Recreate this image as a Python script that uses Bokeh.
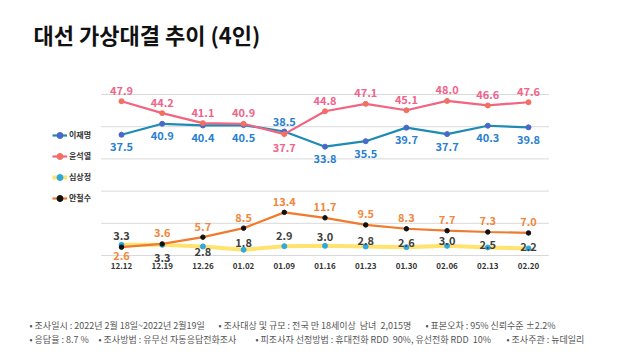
from bokeh.plotting import figure
from bokeh.models import (ColumnDataSource, Range1d, Label, Legend, LegendItem)
from bokeh.core.properties import value
from bokeh.embed import file_html
from bokeh.resources import INLINE

# ---------------- data ----------------
dates = ["12.12", "12.19", "12.26", "01.02", "01.09", "01.16",
         "01.23", "01.30", "02.06", "02.13", "02.20"]
lee = [37.5, 40.9, 40.4, 40.5, 38.5, 33.8, 35.5, 39.7, 37.7, 40.3, 39.8]
yoon = [47.9, 44.2, 41.1, 40.9, 37.7, 44.8, 47.1, 45.1, 48.0, 46.6, 47.6]
shim = [3.3, 3.3, 2.8, 1.8, 2.9, 3.0, 2.8, 2.6, 3.0, 2.5, 2.2]
ahn = [2.6, 3.6, 5.7, 8.5, 13.4, 11.7, 9.5, 8.3, 7.7, 7.3, 7.0]
names = ["이재명", "윤석열", "심상정", "안철수"]
grid_vals = [0, 10, 20, 30, 40, 50]
title = "대선 가상대결 추이 (4인)"
NB = "\u00a0"
footer1 = ["• 조사일시 : 2022년 2월 18일~2022년 2월19일",
           "• 조사대상 및 규모 : 전국 만 18세이상" + NB + NB + "남녀" + NB + NB + "2,015명",
           "• 표본오차 : 95% 신뢰수준 ±2.2%"]
footer2 = ["• 응답율 : 8.7 %",
           "• 조사방법 : 유무선 자동응답전화조사",
           "• 피조사자 선정방법 : 휴대전화 RDD" + NB + NB + "90%, 유선전화 RDD" + NB + NB + "10%",
           "• 조사주관 : 뉴데일리"]

# ---------------- styles ----------------
FONT = "Noto Sans CJK KR"
W, H = 632, 352
X0_PX, DX_PX = 121.0, 40.7      # pixel of first category, px per category
Y0_PX, DY_PX = 255.0, 3.22      # pixel of value 0, px per unit
footer1_x = [29, 218, 425]
footer2_x = [29, 98, 255, 506]
lee_dy = [12, 12, 12, 12, -10, 12, 12, 12, 12, 12, 12]
yoon_dy = [-11, -11, -11, -11, 13, -11, -11, -11, -11, -11, -11]
shim_dy = [-9, 13, 5, -7, -11, -9, -6, -5, -5, -3, -2]
ahn_dy = [8, -11, -11, -11, -11, -11, -11, -11, -11, -11, -11]

xs = -X0_PX / DX_PX
xe = xs + W / DX_PX
ye = Y0_PX / DY_PX
ys = -(H - Y0_PX) / DY_PX

p = figure(width=W, height=H, x_range=Range1d(xs, xe), y_range=Range1d(ys, ye),
           output_backend="svg", toolbar_location=None,
           min_border=0, min_border_left=0, min_border_right=0,
           min_border_top=0, min_border_bottom=0)
p.axis.visible = False
p.grid.visible = False
p.background_fill_color = "white"
p.border_fill_color = "white"
p.outline_line_color = None

idx = list(range(len(dates)))
n = len(dates)

# horizontal gridlines across the category band
p.segment(x0=[-0.5] * len(grid_vals), x1=[n - 0.5] * len(grid_vals),
          y0=grid_vals, y1=grid_vals, line_color="#d9d9d9", line_width=1)

# category labels
p.text(x=idx, y=[0] * n, text=dates, y_offset=10, text_align="center",
       text_baseline="middle", text_font=value(FONT), text_font_style="bold",
       text_font_size="8px", text_color="#333333")

src = ColumnDataSource(dict(d=idx, lee=lee, yoon=yoon, shim=shim, ahn=ahn,
                            lee_t=[f"{v:.1f}" for v in lee],
                            yoon_t=[f"{v:.1f}" for v in yoon],
                            shim_t=[f"{v:.1f}" for v in shim],
                            ahn_t=[f"{v:.1f}" for v in ahn],
                            lee_dy=lee_dy, yoon_dy=yoon_dy,
                            shim_dy=shim_dy, ahn_dy=ahn_dy))

series = [
    ("lee", "#1f8bb5", 2.2, "#4a68c8", 5, "#2a7fcf"),
    ("yoon", "#f2647f", 2.2, "#f07062", 5, "#f0648a"),
    ("shim", "#ffe36e", 4, "#2fa8e0", 5, "#404040"),
    ("ahn", "#f07a2e", 2.2, "#111111", 4.5, "#f2873a"),
]
items = []
for (key, lc, lw, mc, ms, tc), nm in zip(series, names):
    r1 = p.line("d", key, source=src, line_color=lc, line_width=lw)
    r2 = p.scatter("d", key, source=src, size=ms, fill_color=mc, line_color=mc)
    p.text("d", key, text=key + "_t", source=src, y_offset=key + "_dy",
           text_align="center", text_baseline="middle",
           text_font=value(FONT), text_font_style="bold",
           text_font_size="11px", text_color=tc)
    items.append(LegendItem(label=nm, renderers=[r1, r2]))

legend = Legend(items=items, location=(52, H - 207.5), glyph_width=15,
                glyph_height=20, label_height=20, spacing=1, padding=0,
                margin=0, label_standoff=2, border_line_color=None,
                background_fill_alpha=0, label_text_font=FONT,
                label_text_font_size="8px", label_text_font_style="bold",
                label_text_color="#333333")
p.add_layout(legend, "center")

p.add_layout(Label(x=33, y=H - 33, x_units="screen", y_units="screen",
                   text=title, text_font=FONT, text_font_style="bold",
                   text_font_size="22px", text_color="#111111",
                   text_baseline="middle"))
for txt, fx in zip(footer1, footer1_x):
    p.add_layout(Label(x=fx, y=H - 325, x_units="screen", y_units="screen",
                       text=txt, text_font=FONT, text_font_size="9px",
                       text_color="#555555", text_baseline="middle"))
for txt, fx in zip(footer2, footer2_x):
    p.add_layout(Label(x=fx, y=H - 339, x_units="screen", y_units="screen",
                       text=txt, text_font=FONT, text_font_size="9px",
                       text_color="#555555", text_baseline="middle"))

open("out.html", "w").write(file_html(p, INLINE))
